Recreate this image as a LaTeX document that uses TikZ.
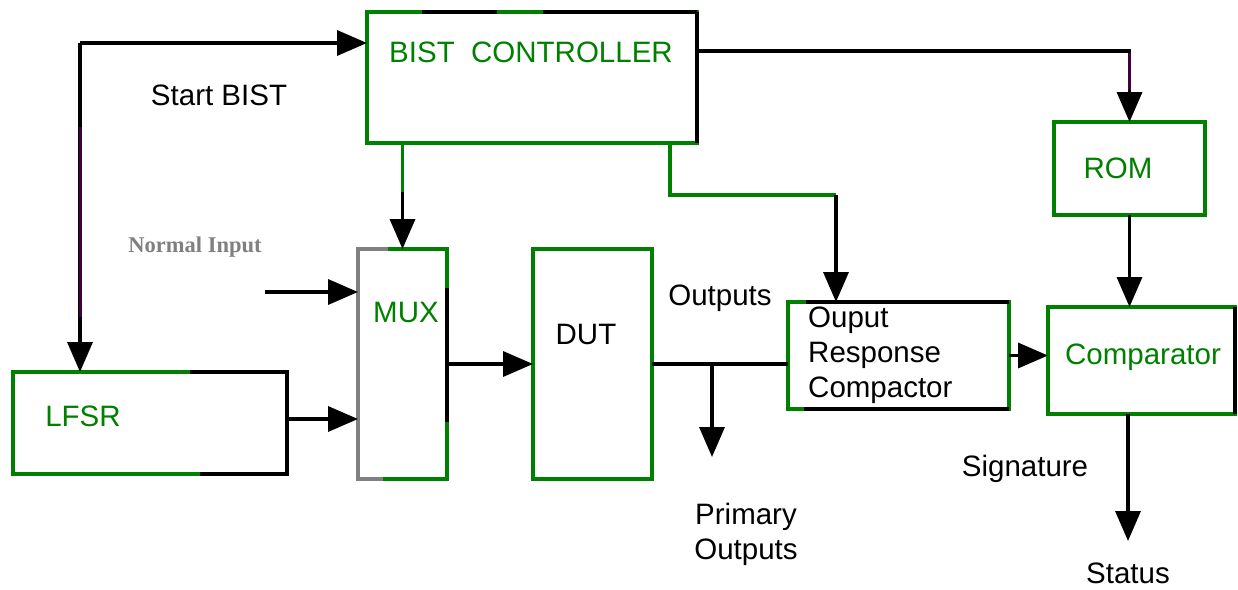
\documentclass[tikz,border=0pt]{standalone}
\usepackage{fontspec}
\setmainfont{Liberation Sans}
\newfontfamily\serifbold{Liberation Serif}
\usetikzlibrary{arrows.meta}
\definecolor{gr}{RGB}{0,128,0}
\definecolor{pu}{RGB}{64,0,64}
\definecolor{gy}{RGB}{128,128,128}
\begin{document}
\begin{tikzpicture}[x=1pt,y=-1pt,
  box/.style={draw=gr,line width=3.5pt,inner sep=0pt,outer sep=0pt,rectangle},
  blk/.style={draw=black,line width=3.5pt},
  gline/.style={draw=gr,line width=3.5pt},
  arr/.style={draw=black,line width=3.5pt,-{Triangle[length=30pt,width=25pt]}},
  txt/.style={font=\fontsize{29.5}{35}\selectfont,inner sep=0pt,align=left},
  gtxt/.style={txt,text=gr}]
\useasboundingbox (0,0) rectangle (1238,589);
\fill[white] (0,0) rectangle (1238,589);

% boxes
\node[box,minimum width=330pt,minimum height=131pt] (bist) at (532,77.5) {};
\node[box,minimum width=151pt,minimum height=93pt] (rom) at (1129.5,168.5) {};
\node[box,minimum width=187pt,minimum height=107pt] (comp) at (1141.5,360.5) {};
\node[box,minimum width=221pt,minimum height=107pt] (orc) at (898.5,355.5) {};
\node[box,minimum width=89pt,minimum height=230pt] (mux) at (402.5,364) {};
\node[box,minimum width=119pt,minimum height=230pt] (dut) at (592.5,364) {};
\node[box,minimum width=274pt,minimum height=102pt] (lfsr) at (150,423) {};

% mixed-colour edges
\draw[blk] (bist.north east) -- (bist.south east);
\draw[blk] (422,12) -- (497,12);
\draw[blk] (543,12) -- (bist.north east);
\draw[blk] (190,372) -- (lfsr.north east) -- (lfsr.south east) -- (200,474);
\draw[draw=gy,line width=3.5pt] (388,249) -- (mux.north west) -- (mux.south west) -- (383,479);
\draw[blk] (447,288) -- (447,422);
\draw[blk] (806,302) -- (orc.north east);
\draw[blk] (804,409) -- (orc.south east);
\draw[blk] (comp.north east) -- (comp.south east);

% texts
\node[gtxt] (tbist) at (531,52) {BIST\ \ CONTROLLER};
\node[gtxt] (trom) at (1118,168) {ROM};
\node[gtxt] (tcomp) at (1143,357) {Comparator};
\node[txt,anchor=west] (torc) at (808,355) {Ouput\\Response\\Compactor};
\node[gtxt] (tmux) at (406,312) {MUX};
\node[txt] (tdut) at (586,334) {DUT};
\node[gtxt] (tlfsr) at (83,416) {LFSR};
\node[txt] (tstart) at (219,95) {Start BIST};
\node[inner sep=0pt,text=gy,font=\serifbold\bfseries\fontsize{22.5}{26}\selectfont] (tnorm) at (195,247) {Normal Input};
\node[txt] (tout) at (720,298) {Outputs};
\node[txt,align=center] (tprim) at (746,534) {Primary\\Outputs};
\node[txt] (tsig) at (1025,469) {Signature};
\node[txt] (tstat) at (1128,573) {Status};

% connectors
\coordinate (s1) at (80,43);
\draw[arr] (s1) -- (s1 -| bist.west);
\draw[arr] (s1) -- (s1 |- lfsr.north);
\draw[draw=pu,line width=3pt] (80,127) -- (80,317);

\coordinate (b1) at (697,51);
\draw[arr] (b1) -| (rom.north);
\draw[draw=pu,line width=3pt] (1129.5,53) -- (1129.5,90);

\draw[arr] (rom.south) -- (rom.south |- comp.north);
\coordinate (st) at (1128,541);
\draw[arr] (st |- comp.south) -- (st);

\coordinate (c1) at (402.5,192);
\draw[gline] (c1 |- bist.south) -- (c1);
\draw[arr] (c1) -- (mux.north);

\coordinate (c2) at (670,195);
\coordinate (c3) at (836,195);
\draw[gline] (c2 |- bist.south) -- (c2) -- (c3);
\draw[arr] (c3) -- (c3 |- orc.north);

\coordinate (ni) at (265,292);
\draw[arr] (ni) -- (ni -| mux.west);
\draw[arr] ([yshift=4pt]lfsr.east) -- ([yshift=4pt]lfsr.east -| mux.west);
\draw[arr] (mux.east) -- (dut.west);
\draw[blk] (dut.east) -- (dut.east -| orc.west);
\coordinate (br) at (712,364);
\coordinate (po) at (712,457);
\draw[arr] (br) -- (po);
\draw[arr] (orc.east) -- (orc.east -| comp.west);
\end{tikzpicture}
\end{document}
